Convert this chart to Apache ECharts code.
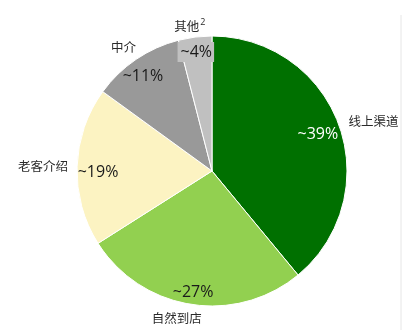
<!DOCTYPE html>
<html><head><meta charset="utf-8">
<script src="https://cdn.jsdelivr.net/npm/echarts@6/dist/echarts.min.js"></script>
<style>html,body{margin:0;padding:0;background:#fff}#c{width:405px;height:330px}</style>
</head><body><div id="c"></div>
<script>
const categories = ['线上渠道', '自然到店', '老客介绍', '中介', '其他'];
const values = [39, 27, 19, 11, 4];
const valueLabels = ['~39%', '~27%', '~19%', '~11%', '~4%'];
const colors = ['#007000', '#92d050', '#fcf3c2', '#999999', '#c0c0c0'];
const valueLabelColors = ['#ffffff', '#1a1a1a', '#1a1a1a', '#1a1a1a', '#1a1a1a'];
const nameOffsets = [[10, 5], [-10, -12], [-8, 0], [2, 9], [-2, 15]];
const valueOffsets = [[-8, 4], [0, 2], [7, 5], [-1, 6], [-1, 1]];

const chart = echarts.init(document.getElementById('c'), null, {renderer: 'canvas'});
const center = [212, 171];
const R = 135;
const base = {
  type: 'pie', center: center, startAngle: 90, clockwise: true,
  silent: true, labelLine: {show: false}, emphasis: {disabled: true}
};
chart.setOption({
  animation: false,
  graphic: [{type: 'line', shape: {x1: 401, y1: 15, x2: 401, y2: 330}, style: {stroke: '#e6e6e6', lineWidth: 1}}],
  series: [
    Object.assign({}, base, {
      radius: [0, R],
      itemStyle: {borderColor: '#ffffff', borderWidth: 1},
      label: {show: false},
      data: categories.map((n, i) => ({name: n, value: values[i], itemStyle: {color: colors[i]}}))
    }),
    Object.assign({}, base, {
      radius: [0, 236],
      itemStyle: {color: 'transparent'},
      label: {show: true, position: 'inside', fontSize: 16, fontFamily: 'Open Sans'},
      data: categories.map((n, i) => ({
        name: n, value: values[i],
        label: {
          formatter: valueLabels[i], color: valueLabelColors[i], offset: valueOffsets[i],
          backgroundColor: i === 4 ? '#c0c0c0' : 'transparent',
          padding: i === 4 ? [2, 2, 2, 3] : 0
        }
      }))
    }),
    Object.assign({}, base, {
      radius: [0, 316],
      itemStyle: {color: 'transparent'},
      label: {
        show: true, position: 'inside', color: '#2a2a2a', fontSize: 12.5,
        fontFamily: 'Noto Sans CJK SC',
        rich: {sup: {fontSize: 9, verticalAlign: 'top', padding: [0, 0, 8, 1], color: '#2a2a2a', fontFamily: 'Open Sans'}}
      },
      data: categories.map((n, i) => ({
        name: n, value: values[i],
        label: {offset: nameOffsets[i], formatter: i === 4 ? n + '{sup|2}' : n}
      }))
    })
  ]
});
</script></body></html>
